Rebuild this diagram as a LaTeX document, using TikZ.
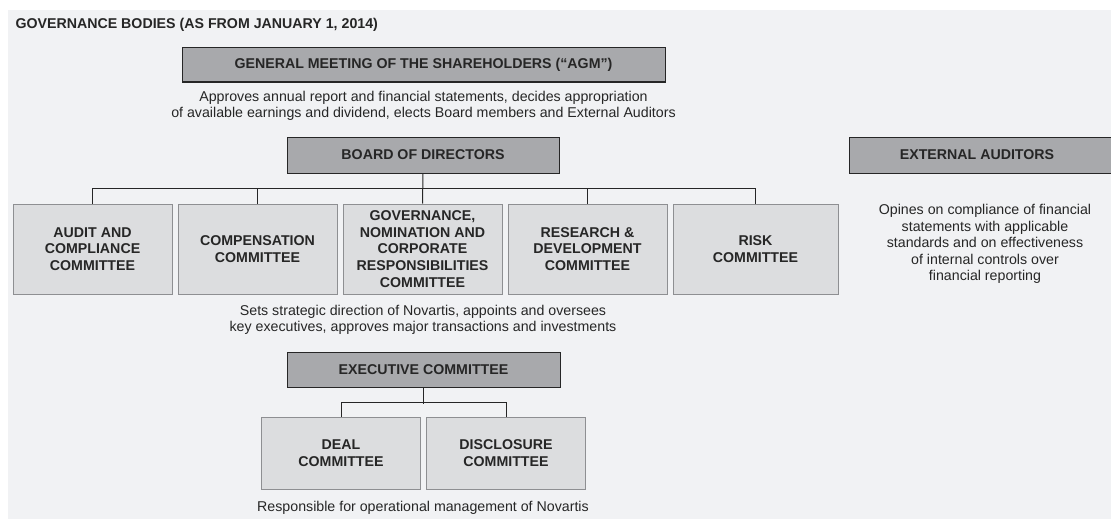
\documentclass[tikz,border=0pt]{standalone}
\usepackage{fontspec}
\setmainfont{Liberation Sans}
\usetikzlibrary{positioning}
\definecolor{pagegray}{HTML}{F1F2F4}
\definecolor{headfill}{HTML}{A8A9AC}
\definecolor{boxfill}{HTML}{DCDDDF}
\definecolor{boxline}{HTML}{8E8F92}
\definecolor{ink}{HTML}{262626}
\tikzset{headbox/.style = {draw=ink, fill=headfill, line width=1pt, inner sep=0pt,
    text=ink, font=\bfseries\fontsize{14.2}{16.8}\selectfont},
  combox/.style = {draw=boxline, fill=boxfill, line width=1pt, inner sep=0pt,
    minimum width=159pt, minimum height=90pt, align=center, text=ink,
    font=\bfseries\fontsize{14.2}{16.8}\selectfont},
  note/.style = {align=center, text=ink, font=\fontsize{14.2}{16.6}\selectfont},
  link/.style = {draw=ink, line width=1pt}}

\begin{document}
\begin{tikzpicture}[x=1pt,y=-1pt]
\useasboundingbox (0,0) rectangle (1111,519);
\fill[white] (0,0) rectangle (1111,519);
\fill[pagegray] (8,10) rectangle (1111,519);

\node[anchor=west, text=ink, font=\bfseries\fontsize{14.2}{16.8}\selectfont] (title) at (12,25)
  {GOVERNANCE BODIES (AS FROM JANUARY 1, 2014)};

% top of the tree
\node[headbox, minimum width=483pt, minimum height=34pt] (agm) at (423.5,65)
  {GENERAL MEETING OF THE SHAREHOLDERS (``AGM'')};
\node[note] (agmnote) at (423.5,106) {Approves annual report and financial statements, decides appropriation\\
  of available earnings and dividend, elects Board members and External Auditors};
\node[headbox, minimum width=272pt, minimum height=36pt] (board) at (423,155) {BOARD OF DIRECTORS};

% board committees
\node[combox] (c3) at (422.5,249) {GOVERNANCE,\\NOMINATION AND\\CORPORATE\\RESPONSIBILITIES\\COMMITTEE};
\node[combox, left=5pt of c3] (c2) {COMPENSATION\\COMMITTEE};
\node[combox, left=5pt of c2] (c1) {AUDIT AND\\COMPLIANCE\\COMMITTEE};
\node[combox, right=5pt of c3] (c4) {RESEARCH \&\\DEVELOPMENT\\COMMITTEE};
\node[combox, right=5pt of c4, minimum width=165pt] (c5) {RISK\\COMMITTEE};

\draw[link] (c1.north) -- ++(0,-15) -| (c5.north);
\foreach \c in {c2,c4}
  \draw[link] (\c.north) -- ++(0,-15);
\draw[link] (board.south) -- (c3.north);

\node[note] (boardnote) at (423,320) {Sets strategic direction of Novartis, appoints and oversees\\
  key executives, approves major transactions and investments};

% executive committee
\node[headbox, minimum width=273pt, minimum height=35pt] (exec) at (423.5,369.5) {EXECUTIVE COMMITTEE};
\node[combox, minimum height=72pt] (deal) at (341,453) {DEAL\\COMMITTEE};
\node[combox, minimum height=72pt, right=5pt of deal] (discl) {DISCLOSURE\\COMMITTEE};
\draw[link] (deal.north) -- ++(0,-14) -| (discl.north);
\draw[link] (exec.south) -- ++(0,16);
\node[note] (execnote) at (423,508) {Responsible for operational management of Novartis};

% auditors
\node[headbox, minimum width=264pt, minimum height=36pt] (audit) at (981,155) {\hspace*{-8pt}EXTERNAL AUDITORS};
\node[note] (auditnote) at (985,244) {Opines on compliance of financial\\statements with applicable\\
  standards and on effectiveness\\of internal controls over\\financial reporting};
\end{tikzpicture}
\end{document}
